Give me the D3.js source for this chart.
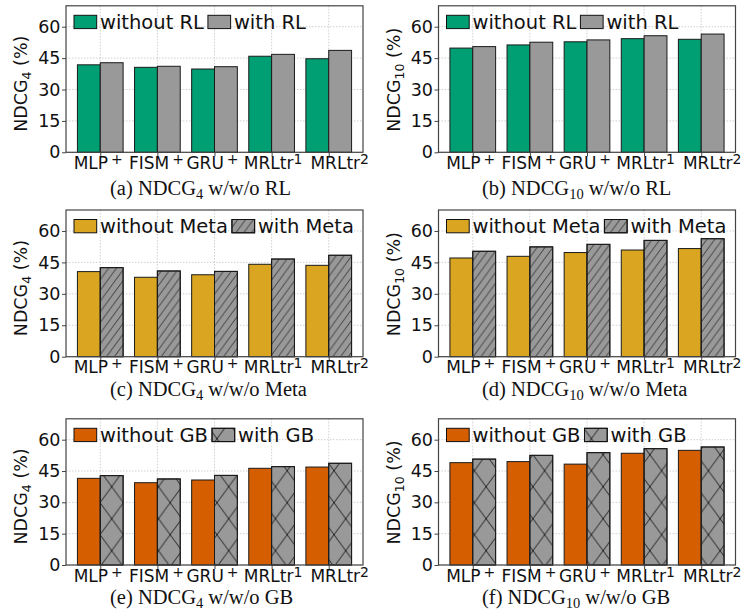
<!DOCTYPE html>
<html><head><meta charset="utf-8">
<script src="https://cdn.jsdelivr.net/npm/d3@7"></script>
<style>body{margin:0;background:#fff} svg{display:block}</style>
</head><body>
<svg id="chart" width="744" height="616"></svg>
<script>
// ---------------- data ----------------
const categories = ["MLP", "FISM", "GRU", "MRLtr", "MRLtr"];
const categorySup = ["+", "+", "+", "1", "2"];
const yTickValues = [0, 15, 30, 45, 60];
const captionLetters = ["a", "b", "c", "d", "e", "f"];
const metricSub = ["4", "10"];
const ablations = ["RL", "Meta", "GB"];

const rlNdcg4Without  = [41.8, 40.6, 39.8, 45.9, 44.7];
const rlNdcg4With     = [42.8, 41.1, 40.9, 46.8, 48.7];
const rlNdcg10Without = [49.8, 51.3, 52.8, 54.3, 54.0];
const rlNdcg10With    = [50.5, 52.6, 53.7, 55.7, 56.5];

const metaNdcg4Without  = [40.6, 37.9, 39.1, 44.1, 43.6];
const metaNdcg4With     = [42.5, 40.9, 40.7, 46.6, 48.4];
const metaNdcg10Without = [47.1, 47.9, 49.7, 50.9, 51.6];
const metaNdcg10With    = [50.3, 52.4, 53.6, 55.5, 56.3];

const gbNdcg4Without  = [41.5, 39.4, 40.7, 46.3, 46.9];
const gbNdcg4With     = [42.8, 41.2, 42.9, 47.1, 48.7];
const gbNdcg10Without = [49.0, 49.5, 48.3, 53.5, 54.9];
const gbNdcg10With    = [50.7, 52.5, 53.8, 55.7, 56.5];

const panels = [
  {row: 0, col: 0, without: rlNdcg4Without,   with: rlNdcg4With},
  {row: 0, col: 1, without: rlNdcg10Without,  with: rlNdcg10With},
  {row: 1, col: 0, without: metaNdcg4Without, with: metaNdcg4With},
  {row: 1, col: 1, without: metaNdcg10Without,with: metaNdcg10With},
  {row: 2, col: 0, without: gbNdcg4Without,   with: gbNdcg4With},
  {row: 2, col: 1, without: gbNdcg10Without,  with: gbNdcg10With}
];

// ---------------- style / layout ----------------
const withoutColors = {RL: "#009e73", Meta: "#daa520", GB: "#d55e00"};
const withColor = "#999999";
const hatchFill = {RL: null, Meta: "url(#hatchDiag)", GB: "url(#hatchCross)"};
const colLeft = [66, 438.5], colRight = [363, 735.5];
const rowTop = [5.8, 210, 418.8], rowBottom = [152.3, 356.7, 565];
const captionBase = [195, 396, 603.5];
const labelShift = [-2, -1, -2, 1.5, 11];
const sans = "'DejaVu Sans', sans-serif";
const serif = "'Liberation Serif', 'Times New Roman', serif";

const svg = d3.select("#chart");
const defs = svg.append("defs");
const pd = defs.append("pattern").attr("id", "hatchDiag")
  .attr("patternUnits", "userSpaceOnUse").attr("width", 7.8).attr("height", 10.7);
pd.append("path").attr("d", "M-0.78,1.07 L0.78,-1.07 M0,10.7 L7.8,0 M7.02,11.77 L8.58,9.63")
  .attr("stroke", "#222").attr("stroke-width", 0.8).attr("fill", "none");
const pc = defs.append("pattern").attr("id", "hatchCross")
  .attr("patternUnits", "userSpaceOnUse").attr("width", 23.4).attr("height", 32)
  .attr("x", 6.4).attr("y", 22.7);
pc.append("path").attr("d", "M0,0 L23.4,32 M23.4,0 L0,32")
  .attr("stroke", "#111").attr("stroke-width", 0.9).attr("fill", "none");

panels.forEach((p, pi) => {
  const abl = ablations[p.row];
  const left = colLeft[p.col], right = colRight[p.col];
  const top = rowTop[p.row], bottom = rowBottom[p.row];
  const x = d3.scaleLinear().domain([-0.6, 4.6]).range([left, right]);
  const y = d3.scaleLinear().domain([0, 70]).range([bottom, top]);
  const g = svg.append("g");
  const idx = d3.range(categories.length);

  // grid
  g.selectAll("line.hg").data(yTickValues).join("line")
    .attr("x1", left).attr("x2", right).attr("y1", d => y(d)).attr("y2", d => y(d))
    .attr("stroke", "#c4c4c4").attr("stroke-width", 0.8).attr("stroke-dasharray", "1.5,1.5");
  g.selectAll("line.vg").data(idx).join("line")
    .attr("x1", d => x(d)).attr("x2", d => x(d)).attr("y1", top).attr("y2", bottom)
    .attr("stroke", "#c4c4c4").attr("stroke-width", 0.8).attr("stroke-dasharray", "1.5,1.5");

  // bars
  const bw = x(0.4) - x(0);
  g.selectAll("rect.wo").data(p.without).join("rect")
    .attr("x", (d, i) => x(i - 0.4)).attr("width", bw)
    .attr("y", d => y(d)).attr("height", d => y(0) - y(d))
    .attr("fill", withoutColors[abl]).attr("stroke", "#1a1a1a").attr("stroke-width", 1);
  g.selectAll("rect.w").data(p.with).join("rect")
    .attr("x", (d, i) => x(i)).attr("width", bw)
    .attr("y", d => y(d)).attr("height", d => y(0) - y(d))
    .attr("fill", withColor).attr("stroke", "#1a1a1a").attr("stroke-width", 1);
  if (hatchFill[abl]) {
    g.selectAll("rect.wh").data(p.with).join("rect")
      .attr("x", (d, i) => x(i)).attr("width", bw)
      .attr("y", d => y(d)).attr("height", d => y(0) - y(d))
      .attr("fill", hatchFill[abl]).attr("stroke", "#1a1a1a").attr("stroke-width", 1);
  }

  // frame
  g.append("rect").attr("x", left).attr("y", top).attr("width", right - left).attr("height", bottom - top)
    .attr("fill", "none").attr("stroke", "#444").attr("stroke-width", 1.2);

  // y axis
  const ya = g.append("g").attr("transform", `translate(${left},0)`)
    .call(d3.axisLeft(y).tickValues(yTickValues).tickSize(4).tickPadding(1.5));
  ya.select(".domain").remove();
  ya.selectAll(".tick line").attr("stroke", "#444");
  ya.selectAll(".tick text").attr("font-family", sans).attr("font-size", 17.5).attr("fill", "#111");

  // x axis
  const xa = g.append("g").attr("transform", `translate(0,${bottom})`)
    .call(d3.axisBottom(x).tickValues(idx).tickSize(4).tickFormat(""));
  xa.select(".domain").remove();
  xa.selectAll(".tick line").attr("stroke", "#444");
  idx.forEach(i => {
    const t = g.append("text").attr("x", x(i) + labelShift[i]).attr("y", bottom + 16.5)
      .attr("text-anchor", "middle").attr("font-family", sans).attr("font-size", 17).attr("fill", "#111");
    t.append("tspan").text(categories[i]);
    t.append("tspan").attr("dx", categorySup[i] === "+" ? 3 : 0).attr("dy", -5)
      .attr("font-size", 14).text(categorySup[i]);
  });

  // y label
  const yl = g.append("text")
    .attr("transform", `translate(${left - 39},${bottom - 20.5}) rotate(-90)`)
    .attr("font-family", sans).attr("font-size", 17.5).attr("fill", "#111");
  yl.append("tspan").text("NDCG");
  yl.append("tspan").attr("dy", 4).attr("font-size", 12.5).text(metricSub[p.col]);
  yl.append("tspan").attr("dy", -4).text(" (%)");

  // legend
  const items = [
    {label: "without " + abl, fill: withoutColors[abl], hatch: null},
    {label: "with " + abl, fill: withColor, hatch: hatchFill[abl]}
  ];
  let lx = left + 8;
  const ly = top + 9.5;
  items.forEach(it => {
    g.append("rect").attr("x", lx).attr("y", ly).attr("width", 22.7).attr("height", 13.3)
      .attr("fill", it.fill).attr("stroke", "#111").attr("stroke-width", 1);
    if (it.hatch) g.append("rect").attr("x", lx).attr("y", ly).attr("width", 22.7).attr("height", 13.3)
      .attr("fill", it.hatch).attr("stroke", "#111").attr("stroke-width", 1);
    const tx = g.append("text").attr("x", lx + 26).attr("y", ly + 13.3)
      .attr("font-family", sans).attr("font-size", 19.5).attr("fill", "#111").text(it.label);
    lx = lx + 26 + tx.node().getComputedTextLength() + 4;
  });

  // caption
  const cap = svg.append("text").attr("x", 110 + 372 * p.col).attr("y", captionBase[p.row])
    .attr("font-family", serif).attr("font-size", 20.5).attr("fill", "#111");
  cap.append("tspan").text(`(${captionLetters[pi]}) NDCG`);
  cap.append("tspan").attr("dy", 4).attr("font-size", 14.5).text(metricSub[p.col]);
  cap.append("tspan").attr("dy", -4).text(` w/w/o ${abl}`);
});
</script>
</body></html>
